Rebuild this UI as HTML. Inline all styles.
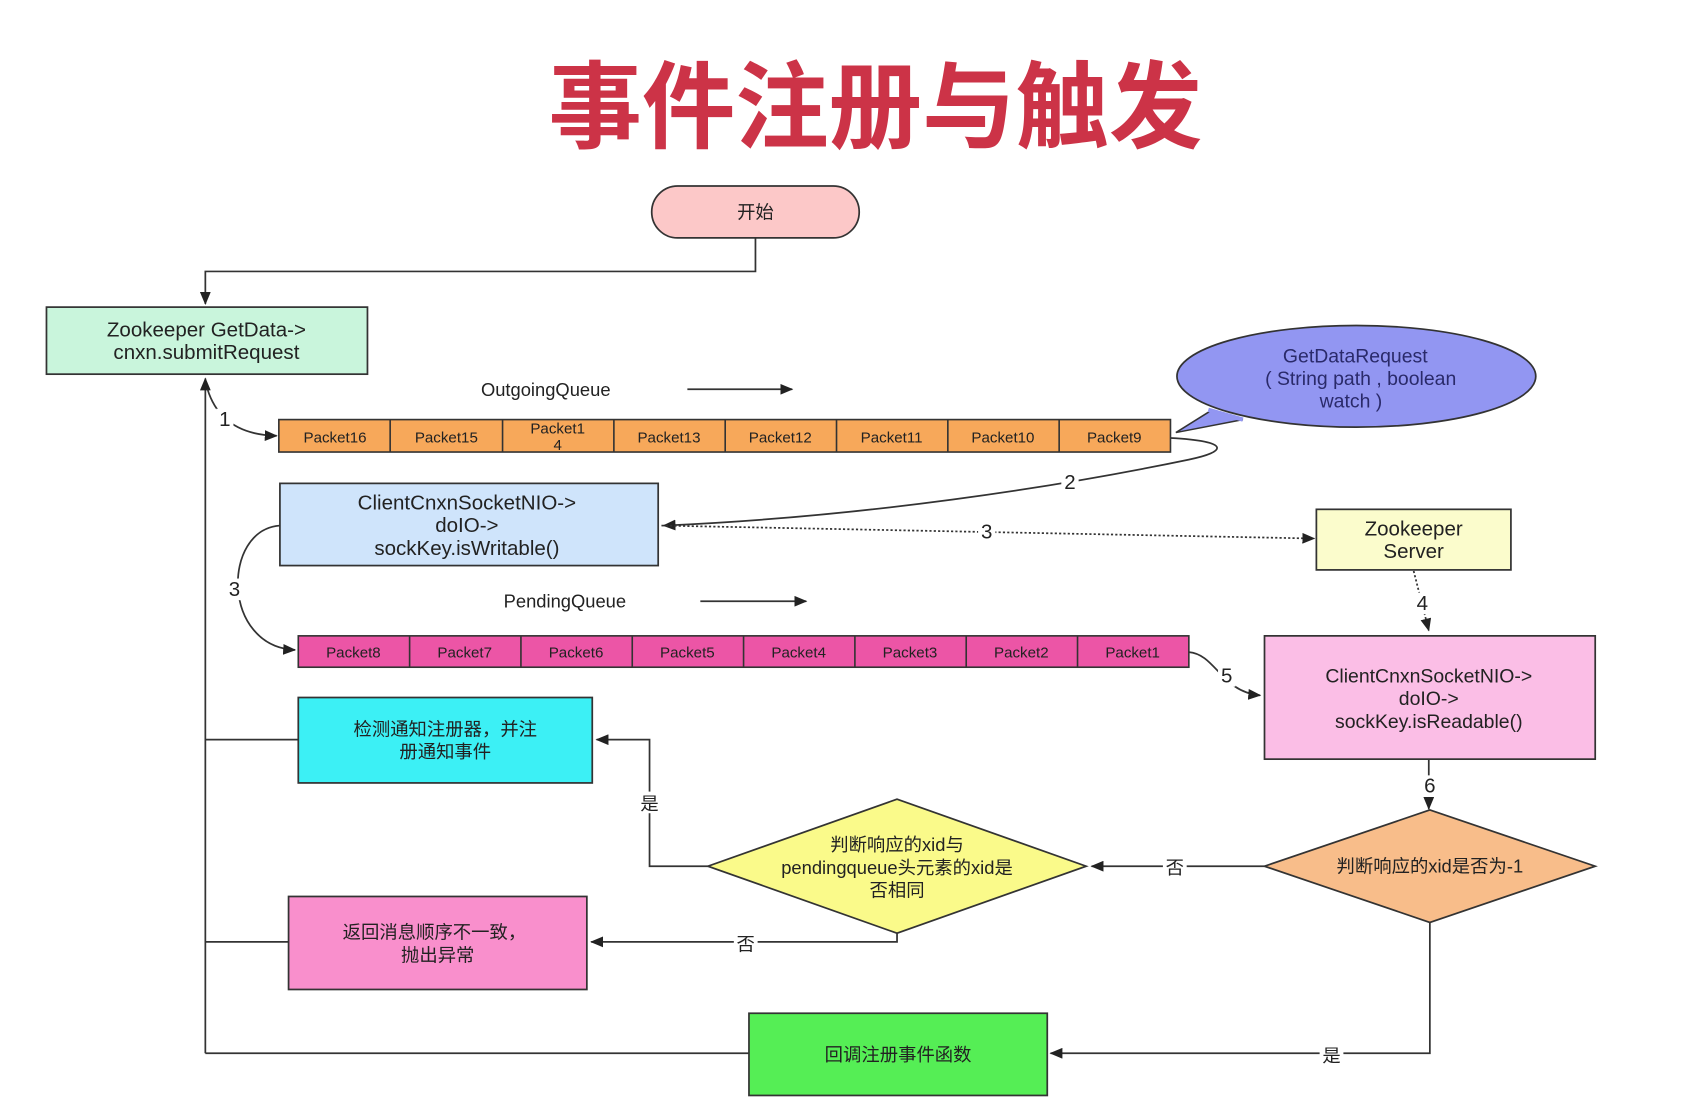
<!DOCTYPE html>
<html><head><meta charset="utf-8"><style>
html,body{margin:0;padding:0;background:#fff;}
svg{display:block;}
text{font-family:"Liberation Sans","Noto Sans CJK SC",sans-serif;fill:#222;}
</style></head><body>
<svg width="1686" height="1116" viewBox="0 0 1560 1032" preserveAspectRatio="none" xmlns="http://www.w3.org/2000/svg">
<defs>
<marker id="a" markerWidth="12" markerHeight="10" refX="11" refY="5" orient="auto" markerUnits="userSpaceOnUse"><path d="M0,0 L12,5 L0,10 z" fill="#222"/></marker>
</defs>
<rect width="1560" height="1032" fill="#fff"/>
<text x="810" y="130" text-anchor="middle" font-size="88" font-weight="bold" style="fill:#cc3347" textLength="605" lengthAdjust="spacingAndGlyphs">事件注册与触发</text>

<g stroke="#333" stroke-width="1.6" fill="none">
<polyline points="699,220 699,251 190,251 190,281" marker-end="url(#a)"/>
<polyline points="190,974 190,350" marker-end="url(#a)"/>
<line x1="190" y1="974" x2="693" y2="974"/>
<line x1="190" y1="684" x2="276" y2="684"/>
<line x1="190" y1="871" x2="267" y2="871"/>
<path d="M192,360 Q205,402 256,403" marker-end="url(#a)"/>
<line x1="636" y1="360" x2="733" y2="360" marker-end="url(#a)"/>
<line x1="648" y1="556" x2="746" y2="556" marker-end="url(#a)"/>
<path d="M1083,405 C1140,408 1135,418 1100,425 C980,450 800,478 614,486" marker-end="url(#a)"/>
<path d="M612,486 L1216,498" stroke-dasharray="2,2" marker-end="url(#a)"/>
<path d="M259,486 C205,490 205,598 273,601" marker-end="url(#a)"/>
<path d="M1308,528 L1322,583" stroke-dasharray="2,2" marker-end="url(#a)"/>
<path d="M1100,603 C1125,605 1130,640 1166,643" marker-end="url(#a)"/>
<line x1="1322" y1="702" x2="1322" y2="748" marker-end="url(#a)"/>
<line x1="1170" y1="801" x2="1010" y2="801" marker-end="url(#a)"/>
<polyline points="655,801 601,801 601,684 552,684" marker-end="url(#a)"/>
<polyline points="830,863 830,871 547,871" marker-end="url(#a)"/>
<polyline points="1323,853 1323,974 972,974" marker-end="url(#a)"/>
</g>
<g font-size="19" text-anchor="middle">
<rect x="200" y="378" width="16" height="20" fill="#fff"/><text x="208" y="394">1</text>
<rect x="982" y="436" width="16" height="20" fill="#fff"/><text x="990" y="452">2</text>
<rect x="905" y="482" width="16" height="20" fill="#fff"/><text x="913" y="498">3</text>
<rect x="209" y="535" width="16" height="20" fill="#fff"/><text x="217" y="551">3</text>
<rect x="1308" y="548" width="16" height="20" fill="#fff"/><text x="1316" y="564">4</text>
<rect x="1127" y="615" width="16" height="20" fill="#fff"/><text x="1135" y="631">5</text>
<rect x="1315" y="717" width="16" height="20" fill="#fff"/><text x="1323" y="733">6</text>
</g>
<g font-size="17" text-anchor="middle">
<rect x="1076" y="791" width="22" height="20" fill="#fff"/><text x="1087" y="808">否</text>
<rect x="590" y="732" width="22" height="20" fill="#fff"/><text x="601" y="749">是</text>
<rect x="679" y="862" width="22" height="20" fill="#fff"/><text x="690" y="879">否</text>
<rect x="1221" y="965" width="22" height="20" fill="#fff"/><text x="1232" y="982">是</text>
</g>

<rect x="603" y="172" width="192" height="48" rx="24" fill="#fcc8c8" stroke="#333" stroke-width="1.6"/>
<text x="699" y="202" font-size="17" text-anchor="middle">开始</text>

<rect x="43" y="284" width="297" height="62" fill="#c9f5dc" stroke="#333" stroke-width="1.6"/>
<text x="191" y="311" font-size="19" text-anchor="middle">Zookeeper GetData-&gt;</text>
<text x="191" y="332" font-size="19" text-anchor="middle">cnxn.submitRequest</text>

<text x="445" y="366" font-size="17">OutgoingQueue</text>
<text x="466" y="562" font-size="17">PendingQueue</text>

<path d="M1120,380 L1088,400 L1150,388 z" fill="#9296f2" stroke="#333" stroke-width="1.4"/>
<ellipse cx="1255" cy="348" rx="166" ry="47" fill="#9296f2" stroke="#333" stroke-width="1.6"/>
<path d="M1118,379 L1150,388" stroke="#9296f2" stroke-width="4"/>
<g font-size="18" text-anchor="middle" style="fill:#2a2a6a">
<text x="1254" y="335" style="fill:#2a2a6a">GetDataRequest</text>
<text x="1259" y="356" style="fill:#2a2a6a">( String path , boolean</text>
<text x="1250" y="377" style="fill:#2a2a6a">watch )</text>
</g>

<g stroke="#333" stroke-width="1.5" fill="#f7a85a">
<rect x="258" y="388" width="825" height="30"/>
</g>
<g stroke="#333" stroke-width="1.5">
<line x1="361" y1="388" x2="361" y2="418"/><line x1="465" y1="388" x2="465" y2="418"/>
<line x1="568" y1="388" x2="568" y2="418"/><line x1="671" y1="388" x2="671" y2="418"/>
<line x1="774" y1="388" x2="774" y2="418"/><line x1="877" y1="388" x2="877" y2="418"/>
<line x1="980" y1="388" x2="980" y2="418"/>
</g>
<g font-size="14" text-anchor="middle">
<text x="310" y="409">Packet16</text><text x="413" y="409">Packet15</text>
<text x="516" y="401">Packet1</text><text x="516" y="416">4</text>
<text x="619" y="409">Packet13</text><text x="722" y="409">Packet12</text>
<text x="825" y="409">Packet11</text><text x="928" y="409">Packet10</text>
<text x="1031" y="409">Packet9</text>
</g>

<rect x="276" y="588" width="824" height="29" fill="#ec55a6" stroke="#333" stroke-width="1.5"/>
<g stroke="#333" stroke-width="1.5">
<line x1="379" y1="588" x2="379" y2="617"/><line x1="482" y1="588" x2="482" y2="617"/>
<line x1="585" y1="588" x2="585" y2="617"/><line x1="688" y1="588" x2="688" y2="617"/>
<line x1="791" y1="588" x2="791" y2="617"/><line x1="894" y1="588" x2="894" y2="617"/>
<line x1="997" y1="588" x2="997" y2="617"/>
</g>
<g font-size="14" text-anchor="middle">
<text x="327" y="608">Packet8</text><text x="430" y="608">Packet7</text>
<text x="533" y="608">Packet6</text><text x="636" y="608">Packet5</text>
<text x="739" y="608">Packet4</text><text x="842" y="608">Packet3</text>
<text x="945" y="608">Packet2</text><text x="1048" y="608">Packet1</text>
</g>

<rect x="259" y="447" width="350" height="76" fill="#cfe4fb" stroke="#333" stroke-width="1.6"/>
<g font-size="19" text-anchor="middle">
<text x="432" y="471">ClientCnxnSocketNIO-&gt;</text>
<text x="432" y="492">doIO-&gt;</text>
<text x="432" y="513">sockKey.isWritable()</text>
</g>

<rect x="1218" y="471" width="180" height="56" fill="#fbfccc" stroke="#333" stroke-width="1.6"/>
<text x="1308" y="495" font-size="19" text-anchor="middle">Zookeeper</text>
<text x="1308" y="516" font-size="19" text-anchor="middle">Server</text>

<rect x="1170" y="588" width="306" height="114" fill="#fbbee6" stroke="#333" stroke-width="1.6"/>
<g font-size="18" text-anchor="middle">
<text x="1322" y="631">ClientCnxnSocketNIO-&gt;</text>
<text x="1322" y="652">doIO-&gt;</text>
<text x="1322" y="673">sockKey.isReadable()</text>
</g>

<polygon points="1323,749 1476,801 1323,853 1170,801" fill="#f8bd8a" stroke="#333" stroke-width="1.6"/>
<text x="1323" y="807" font-size="17" text-anchor="middle">判断响应的xid是否为-1</text>

<polygon points="830,739 1005,801 830,863 655,801" fill="#fafa8a" stroke="#333" stroke-width="1.6"/>
<g font-size="17" text-anchor="middle">
<text x="830" y="787">判断响应的xid与</text>
<text x="830" y="808">pendingqueue头元素的xid是</text>
<text x="830" y="829">否相同</text>
</g>

<rect x="276" y="645" width="272" height="79" fill="#3cf0f5" stroke="#333" stroke-width="1.6"/>
<text x="412" y="680" font-size="17" text-anchor="middle">检测通知注册器，并注</text>
<text x="412" y="701" font-size="17" text-anchor="middle">册通知事件</text>

<rect x="267" y="829" width="276" height="86" fill="#f98fcc" stroke="#333" stroke-width="1.6"/>
<text x="402" y="868" font-size="17" text-anchor="middle">返回消息顺序不一致，</text>
<text x="405" y="889" font-size="17" text-anchor="middle">抛出异常</text>

<rect x="693" y="937" width="276" height="76" fill="#55ee55" stroke="#333" stroke-width="1.6"/>
<text x="831" y="981" font-size="17" text-anchor="middle">回调注册事件函数</text>
</svg>
</body></html>
